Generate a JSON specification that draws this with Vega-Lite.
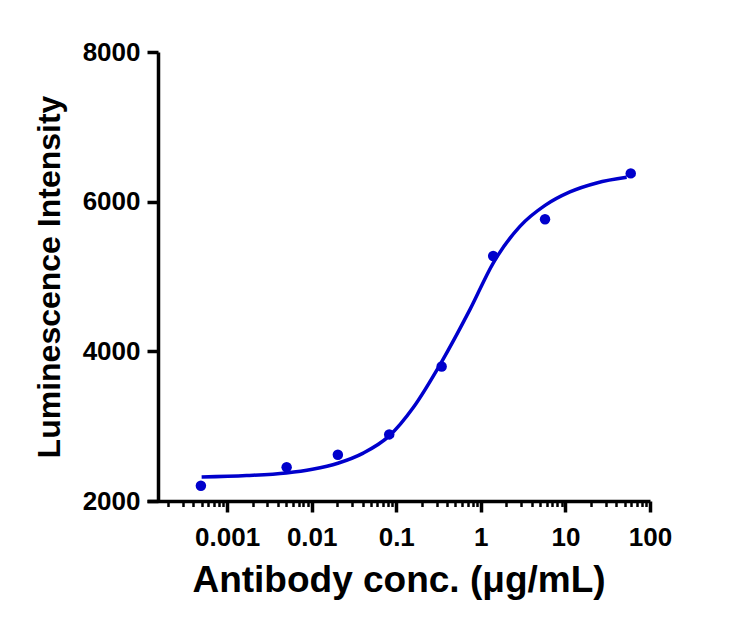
{
  "$schema": "https://vega.github.io/schema/vega-lite/v6.json",
  "autosize": "none",
  "padding": {"left": 147, "top": 52, "right": 100, "bottom": 133},
  "width": 503,
  "height": 449,
  "background": "#ffffff",
  "config": {
    "view": {"stroke": null},
    "font": "Liberation Sans"
  },
  "datasets": {
    "points": [
      {"conc": 0.00049, "lum": 2204},
      {"conc": 0.00506, "lum": 2450},
      {"conc": 0.0204, "lum": 2618},
      {"conc": 0.0826, "lum": 2890},
      {"conc": 0.344, "lum": 3798},
      {"conc": 1.40, "lum": 5274},
      {"conc": 5.74, "lum": 5764},
      {"conc": 59.2, "lum": 6378}
    ],
    "fit": [
      {"conc": 0.0005, "lum": 2320},
      {"conc": 0.0017, "lum": 2340},
      {"conc": 0.005, "lum": 2375},
      {"conc": 0.0102, "lum": 2425},
      {"conc": 0.0204, "lum": 2505},
      {"conc": 0.0407, "lum": 2640},
      {"conc": 0.0826, "lum": 2870},
      {"conc": 0.159, "lum": 3250},
      {"conc": 0.344, "lum": 3860},
      {"conc": 0.745, "lum": 4560},
      {"conc": 1.40, "lum": 5180},
      {"conc": 2.90, "lum": 5670},
      {"conc": 5.74, "lum": 5950},
      {"conc": 11.3, "lum": 6130},
      {"conc": 23.4, "lum": 6250},
      {"conc": 53, "lum": 6325}
    ]
  },
  "encoding": {
    "x": {
      "field": "conc",
      "type": "quantitative",
      "scale": {"type": "log", "domain": [0.000113, 100], "nice": false},
      "axis": {
        "title": "Antibody conc. (μg/mL)",
        "titleFont": "Liberation Sans",
        "titleFontSize": 37,
        "titleFontWeight": "bold",
        "titleColor": "#000000",
        "titlePadding": 12,
        "values": [0.0002, 0.0003, 0.0004, 0.0005, 0.0006, 0.0007, 0.0008, 0.0009,
                   0.001, 0.002, 0.003, 0.004, 0.005, 0.006, 0.007, 0.008, 0.009,
                   0.01, 0.02, 0.03, 0.04, 0.05, 0.06, 0.07, 0.08, 0.09,
                   0.1, 0.2, 0.3, 0.4, 0.5, 0.6, 0.7, 0.8, 0.9,
                   1, 2, 3, 4, 5, 6, 7, 8, 9,
                   10, 20, 30, 40, 50, 60, 70, 80, 90, 100],
        "labelExpr": "abs(log(datum.value)/LN10 - round(log(datum.value)/LN10)) < 0.01 ? format(datum.value, '~g') : ''",
        "labelFont": "Liberation Sans",
        "labelFontSize": 26,
        "labelFontWeight": "bold",
        "labelColor": "#000000",
        "labelPadding": 12,
        "labelOverlap": false,
        "labelFlush": false,
        "labelBound": false,
        "grid": false,
        "domainColor": "#000000",
        "domainWidth": 3.5,
        "tickColor": "#000000",
        "tickSize": {"condition": {"test": "abs(log(datum.value)/LN10 - round(log(datum.value)/LN10)) < 0.01", "value": 11}, "value": 5.5},
        "tickWidth": {"condition": {"test": "abs(log(datum.value)/LN10 - round(log(datum.value)/LN10)) < 0.01", "value": 3.5}, "value": 2.5}
      }
    },
    "y": {
      "field": "lum",
      "type": "quantitative",
      "scale": {"domain": [2000, 8000], "nice": false, "zero": false},
      "axis": {
        "title": "Luminescence Intensity",
        "titleFont": "Liberation Sans",
        "titleFontSize": 32,
        "titleFontWeight": "bold",
        "titleColor": "#000000",
        "titlePadding": 16,
        "values": [2000, 4000, 6000, 8000],
        "format": "d",
        "offset": -11,
        "labelFont": "Liberation Sans",
        "labelFontSize": 26,
        "labelFontWeight": "bold",
        "labelColor": "#000000",
        "labelPadding": 7,
        "labelFlush": false,
        "labelBound": false,
        "grid": false,
        "domainColor": "#000000",
        "domainWidth": 3.5,
        "tickColor": "#000000",
        "tickSize": 11,
        "tickWidth": 3.5
      }
    }
  },
  "layer": [
    {
      "data": {"name": "fit"},
      "mark": {"type": "line", "color": "#0000CC", "strokeWidth": 3.5, "interpolate": "monotone"}
    },
    {
      "data": {"name": "points"},
      "mark": {"type": "point", "shape": "circle", "filled": true, "opacity": 1, "color": "#0000CC", "size": 110}
    }
  ]
}
